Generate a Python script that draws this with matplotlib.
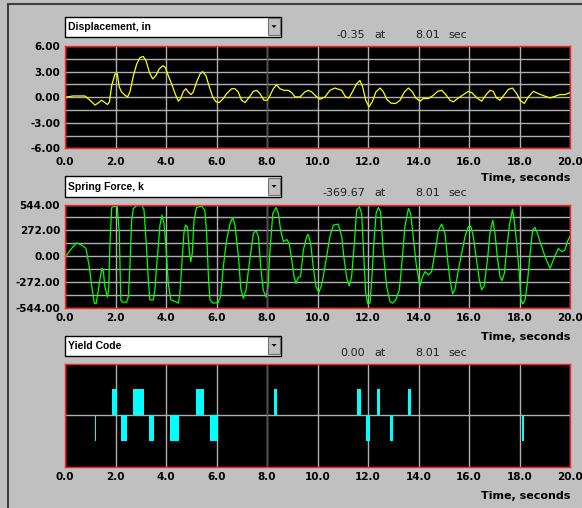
import matplotlib
matplotlib.use('Agg')
import matplotlib.pyplot as plt
from matplotlib.patches import Rectangle, Polygon
from matplotlib.lines import Line2D

# ---------------- data ----------------
disp_t = [0, 0.33, 0.79, 0.99, 1.19, 1.32, 1.45, 1.58, 1.68, 1.76, 1.85, 1.98, 2.07, 2.15,
          2.24, 2.38, 2.48, 2.57, 2.71, 2.84, 2.97, 3.1, 3.21, 3.34, 3.47, 3.6, 3.73, 3.87,
          3.97, 4.09, 4.22, 4.36, 4.49, 4.58, 4.69, 4.79, 4.88, 4.99, 5.08, 5.21, 5.35, 5.45,
          5.58, 5.72, 5.85, 5.98, 6.11, 6.27, 6.4, 6.6, 6.73, 6.86, 6.99, 7.13, 7.26, 7.46,
          7.59, 7.72, 7.88, 8.01, 8.09, 8.25, 8.38, 8.51, 8.67, 8.84, 8.98, 9.11, 9.31, 9.5,
          9.64, 9.77, 9.97, 10.1, 10.3, 10.49, 10.69, 10.96, 11.11, 11.25, 11.38, 11.55,
          11.68, 11.79, 11.91, 12.04, 12.17, 12.31, 12.48, 12.61, 12.74, 12.91, 13.1, 13.27,
          13.44, 13.6, 13.76, 13.89, 14.06, 14.19, 14.39, 14.59, 14.76, 14.92, 15.08, 15.25,
          15.38, 15.55, 15.78, 15.97, 16.11, 16.31, 16.5, 16.66, 16.83, 16.96, 17.09, 17.23,
          17.36, 17.56, 17.72, 17.89, 18.02, 18.19, 18.35, 18.55, 18.75, 19.01, 19.21, 19.41,
          19.6, 19.8, 20.0]
disp_v = [0, 0.15, 0.15, -0.35, -0.92, -0.65, -0.35, -0.62, -0.85, -0.54, 1.38, 2.73, 2.73,
          1.19, 0.62, 0.23, 0.04, 0.62, 2.54, 3.88, 4.65, 4.77, 4.27, 2.92, 2.15, 2.54, 3.31,
          3.69, 3.5, 2.54, 1.58, 0.42, -0.46, -0.15, 0.69, 1.0, 0.62, 0.31, 0.62, 1.77, 2.73,
          3.0, 2.54, 1.19, 0.04, -0.54, -0.62, -0.15, 0.42, 1.0, 1.0, 0.62, -0.35, -0.62,
          -0.15, 0.69, 0.81, 0.42, -0.35, -0.35, 0.04, 1.0, 1.46, 1.0, 0.81, 0.81, 0.54, 0.04,
          0.04, 0.62, 0.81, 0.62, 0.04, -0.23, 0.04, 0.81, 1.08, 0.81, 0.04, -0.08, 0.62, 1.58,
          1.96, 1.19, -0.35, -1.12, -0.54, 0.62, 1.08, 0.62, -0.23, -0.69, -0.73, -0.35, 0.62,
          1.08, 0.62, -0.08, -0.46, -0.15, -0.15, 0.23, 0.69, 0.81, 0.31, -0.35, -0.54, -0.15,
          0.31, 0.69, 0.54, -0.08, -0.46, 0.23, 0.81, 0.69, -0.08, -0.35, 0.15, 0.92, 1.08,
          0.42, -0.35, -0.73, 0.04, 0.69, 0.42, 0.12, -0.08, 0.12, 0.31, 0.31, 0.54]

force_t = [0.0, 0.07, 0.26, 0.46, 0.66, 0.83, 0.96, 1.06, 1.16, 1.23, 1.29, 1.39, 1.47, 1.52,
           1.58, 1.68, 1.73, 1.78, 1.85, 1.95, 2.07, 2.15, 2.21, 2.28, 2.44, 2.51, 2.57, 2.64,
           2.71, 2.86, 3.04, 3.13, 3.21, 3.3, 3.36, 3.5, 3.56, 3.67, 3.76, 3.84, 3.92, 4.0,
           4.09, 4.19, 4.36, 4.49, 4.55, 4.62, 4.71, 4.77, 4.85, 4.92, 4.98, 5.04, 5.11, 5.21,
           5.41, 5.54, 5.61, 5.68, 5.74, 5.87, 6.07, 6.16, 6.27, 6.4, 6.54, 6.64, 6.73, 6.87,
           6.96, 7.06, 7.17, 7.3, 7.46, 7.57, 7.66, 7.75, 7.85, 7.96, 8.04, 8.12, 8.23, 8.36,
           8.45, 8.54, 8.65, 8.78, 8.88, 8.98, 9.07, 9.15, 9.24, 9.33, 9.44, 9.57, 9.63, 9.73,
           9.83, 9.94, 10.05, 10.16, 10.23, 10.36, 10.49, 10.63, 10.82, 10.96, 11.05, 11.16,
           11.26, 11.35, 11.46, 11.55, 11.66, 11.75, 11.82, 11.91, 11.99, 12.08, 12.14, 12.24,
           12.32, 12.41, 12.5, 12.6, 12.74, 12.87, 12.97, 13.1, 13.24, 13.33, 13.46, 13.6,
           13.69, 13.79, 13.92, 14.06, 14.16, 14.26, 14.39, 14.52, 14.65, 14.79, 14.92, 15.05,
           15.18, 15.25, 15.35, 15.44, 15.58, 15.71, 15.84, 15.97, 16.07, 16.17, 16.28, 16.41,
           16.5, 16.6, 16.73, 16.83, 16.94, 17.03, 17.12, 17.23, 17.31, 17.4, 17.49, 17.6,
           17.72, 17.78, 17.89, 18.0, 18.06, 18.13, 18.22, 18.31, 18.42, 18.52, 18.61, 18.71,
           18.84, 19.01, 19.21, 19.34, 19.45, 19.54, 19.67, 19.8, 19.89, 20.0]
force_v = [0, 10, 80, 140, 115, 80, -112, -323, -498, -505, -410, -235, -130, -165,
           -323, -435, -358, 133, 512, 526, 520, 239, -463, -488, -488, -428, -112, 379,
           502, 537, 544, 484, 168, -253, -463, -463, -358, 28, 326, 432, 344, 98,
           -288, -463, -481, -498, -393, -112, 239, 326, 309, 63, -60, 28, 379, 512,
           526, 484, 239, -218, -463, -498, -491, -428, -112, 168, 344, 407, 326, -7,
           -340, -446, -358, -77, 239, 267, 204, -112, -358, -435, -323, 63, 449, 512,
           449, 274, 151, 175, 133, -42, -218, -288, -225, -218, 63, 204, 228, 133,
           -112, -323, -386, -305, -218, -7, 204, 326, 337, 204, -25, -235,
           -316, -218, 133, 484, 520, 449, 63, -393, -505, -498, -288, 168,
           449, 512, 467, 63, -323, -481, -498, -463, -358, -112, 309, 502,
           449, 204, -112, -316, -218, -165, -200, -165, 28, 274, 337, 239,
           -112, -253, -400, -358, -147, 28, 204, 309, 316, 204, -7, -253,
           -358, -316, -42, 239, 379, 239, -7, -218, -260, -183, 63, 326,
           491, 397, 133, -218, -463, -505, -463, -288, 28, 274, 302, 239,
           133, -7, -130, -42, 28, 80, 46, 63, 151, 204]

yield_start = [1.17, 1.86, 2.22, 2.71, 3.34, 4.17, 5.19, 5.73, 8.29, 11.55, 11.92, 12.34, 12.88, 13.58, 18.10]
yield_end = [1.21, 2.07, 2.47, 3.12, 3.51, 4.50, 5.50, 6.05, 8.40, 11.72, 12.09, 12.49, 12.99, 13.69, 18.17]
yield_code = [-1, 1, -1, 1, -1, -1, 1, -1, 1, 1, -1, 1, -1, 1, -1]

x_ticks = [0, 2, 4, 6, 8, 10, 12, 14, 16, 18, 20]
disp_ticks = [6.0, 3.0, 0.0, -3.0, -6.0]
force_ticks = [544.0, 272.0, 0.0, -272.0, -544.0]

titles = ["Displacement, in", "Spring Force, k", "Yield Code"]
readouts = ["-0.35", "-369.67", "0.00"]
cursor_t = 8.01
x_label = "Time, seconds"

# ---------------- layout ----------------
W, H = 582, 508
BG = '#c0c0c0'
fig = plt.figure(figsize=(W / 100, H / 100), dpi=100, facecolor=BG)


def fx(x):
    return x / W


def fy(y):
    return 1 - y / H


L, R = 65, 570
panels = [(46, 148.5), (204.5, 307.5), (363.5, 466.5)]
drop_y = [(17, 36.5), (176.5, 196.5), (335.5, 355.5)]
read_y = [35, 193.5, 352.5]
tlabel_y = [178, 337, 496]
xpads = [5.8, 4.3, 3.8]

TICKFONT = dict(family='DejaVu Sans', weight='bold', size=7.5)

# outer frame lines
fig.add_artist(Line2D([fx(8), fx(8)], [fy(4), 0], color='#404040', lw=1.5, transform=fig.transFigure))
fig.add_artist(Line2D([fx(8), 1], [fy(4), fy(4)], color='#404040', lw=1.5, transform=fig.transFigure))

axes = []
for i, (top, bot) in enumerate(panels):
    ax = fig.add_axes([fx(L), fy(bot), (R - L) / W, (bot - top) / H])
    ax.set_facecolor('black')
    for s in ax.spines.values():
        s.set_color('#ff2020')
        s.set_linewidth(1.0)
        s.set_zorder(5)
    ax.set_xlim(0, 20)
    ax.set_xticks(x_ticks)
    ax.set_xticklabels([f"{v:.1f}" for v in x_ticks], **TICKFONT)
    ax.tick_params(axis='both', length=0)
    ax.tick_params(axis='x', pad=xpads[i])
    ax.tick_params(axis='y', pad=3.5)
    ax.set_axisbelow(True)
    axes.append(ax)

    # dropdown box
    y0, y1 = drop_y[i]
    fig.add_artist(Rectangle((fx(64.5), fy(y1)), (281 - 64.5) / W, (y1 - y0) / H,
                             facecolor='white', edgecolor='black', lw=1, transform=fig.transFigure))
    fig.add_artist(Rectangle((fx(268), fy(y1 - 1.5)), 12 / W, (y1 - y0 - 3) / H,
                             facecolor=BG, edgecolor='#707070', lw=0.8, transform=fig.transFigure))
    cy = (y0 + y1) / 2
    fig.add_artist(Polygon([(fx(271.5), fy(cy - 1.5)), (fx(276.5), fy(cy - 1.5)), (fx(274), fy(cy + 1.2))],
                           closed=True, facecolor='black', edgecolor='none', transform=fig.transFigure))
    fig.text(fx(68), fy(cy + 0.5), titles[i], ha='left', va='center',
             family='Liberation Sans', weight='bold', size=7.5, color='black')

    # cursor readout
    ry = read_y[i]
    fig.text(fx(365), fy(ry), readouts[i], ha='right', va='center', family='DejaVu Sans', size=8, color='#202020')
    fig.text(fx(374), fy(ry), "at", ha='left', va='center', family='DejaVu Sans', size=8, color='#202020')
    fig.text(fx(415), fy(ry), f"{cursor_t:.2f}", ha='left', va='center', family='DejaVu Sans', size=8, color='#202020')
    fig.text(fx(448), fy(ry), "sec", ha='left', va='center', family='DejaVu Sans', size=8, color='#202020')

    # time label
    fig.text(fx(570), fy(tlabel_y[i]), x_label, ha='right', va='center',
             family='DejaVu Sans', weight='bold', size=8, color='black')

GRID = '#b0b0b0'

# displacement
ax = axes[0]
ax.set_ylim(-6, 6)
ax.set_yticks(disp_ticks)
ax.set_yticklabels([f"{v:.2f}" for v in disp_ticks], **TICKFONT)
ax.set_yticks([4.5, 1.5, -1.5, -4.5], minor=True)
ax.tick_params(axis='y', which='minor', length=0)
ax.grid(True, which='both', color=GRID, lw=1)
ax.axvline(cursor_t, color='#505050', lw=1, zorder=1)
ax.plot(disp_t, disp_v, color='#ffff00', lw=0.9, zorder=3)

# spring force
ax = axes[1]
ax.set_ylim(-544, 544)
ax.set_yticks(force_ticks)
ax.set_yticklabels([f"{v:.2f}" for v in force_ticks], **TICKFONT)
ax.set_yticks([408, 136, -136, -408], minor=True)
ax.tick_params(axis='y', which='minor', length=0)
ax.grid(True, which='both', color=GRID, lw=1)
ax.axvline(cursor_t, color='#505050', lw=1, zorder=1)
ax.plot(force_t, force_v, color='#00ff00', lw=0.9, zorder=3)
ax.plot([cursor_t], [-369.67], marker='|', color='#ff00ff', ms=4, mew=1, zorder=4)

# yield code
ax = axes[2]
ax.set_ylim(-2, 2)
ax.set_yticks([0])
ax.set_yticklabels([])
ax.grid(True, which='major', color=GRID, lw=1)
ax.axvline(cursor_t, color='#505050', lw=1, zorder=1)
widths = [e - s for s, e in zip(yield_start, yield_end)]
ax.bar(yield_start, yield_code, width=widths, align='edge', color='#00ffff', edgecolor='none', zorder=3)

fig.savefig('out.png', dpi=100, facecolor=BG)
